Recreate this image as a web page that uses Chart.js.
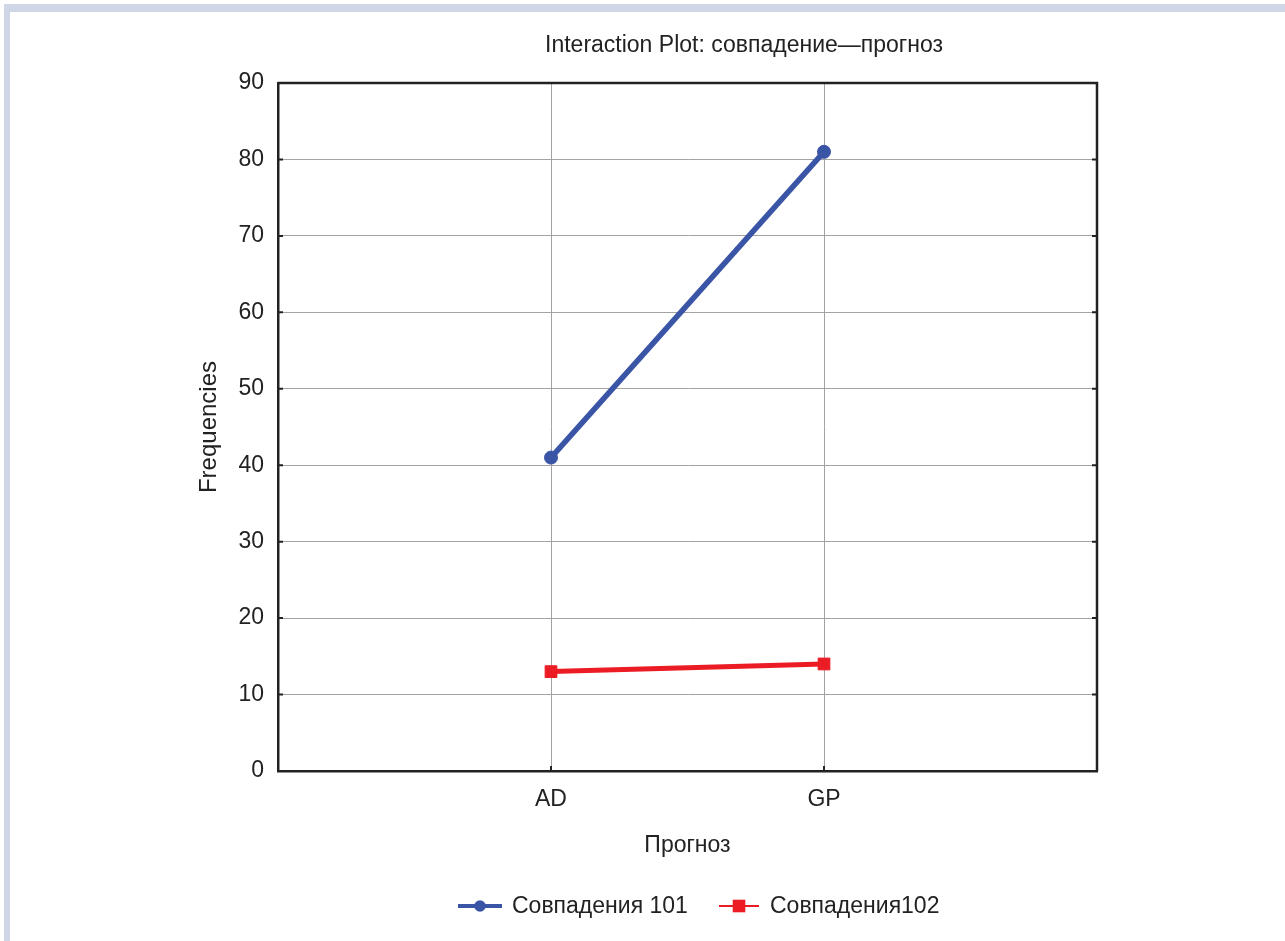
<!DOCTYPE html>
<html>
<head>
<meta charset="utf-8">
<script src="https://cdn.jsdelivr.net/npm/chart.js@4.4.1/dist/chart.umd.min.js"></script>
<style>
  html, body { margin: 0; background: #fff; }
  #frame { position: absolute; left: 4px; top: 4px; width: 1281px; height: 937px;
    box-sizing: border-box; border-left: 6px solid #cfd6e6; border-top: 8px solid #cfd6e6; }
  #c { position: absolute; left: 0; top: 0; }
</style>
</head>
<body>
<div id="frame"></div>
<canvas id="c" width="1285" height="941"></canvas>
<script>
"use strict";

const TITLE = "Interaction Plot: совпадение—прогноз";
const X_TITLE = "Прогноз";
const Y_TITLE = "Frequencies";
const CATEGORIES = ["AD", "GP"];
const SERIES_NAMES = ["Совпадения 101", "Совпадения102"];
const SOVP_101 = [41, 81];
const SOVP_102 = [13, 14];

const FONT = "'Liberation Sans', Arial, sans-serif";
const INK = "#222";

const pts = (vals) => vals.map((v, i) => ({ x: i + 1, y: v }));

/* frame on top/right plus short inward tick marks, like the original */
const framePlugin = {
  id: "frame",
  afterDraw(chart) {
    const { ctx, chartArea: a, scales } = chart;
    ctx.save();
    ctx.strokeStyle = INK;
    ctx.lineWidth = 2.5;
    ctx.beginPath();
    ctx.moveTo(a.left, a.top); ctx.lineTo(a.right, a.top);
    ctx.lineTo(a.right, a.bottom);
    ctx.stroke();
    ctx.lineWidth = 2;
    ctx.beginPath();
    scales.y.ticks.forEach((t) => {
      const y = scales.y.getPixelForValue(t.value);
      ctx.moveTo(a.left, y); ctx.lineTo(a.left + 5, y);
      ctx.moveTo(a.right - 5, y); ctx.lineTo(a.right, y);
    });
    scales.x.ticks.forEach((t) => {
      const x = scales.x.getPixelForValue(t.value);
      ctx.moveTo(x, a.bottom); ctx.lineTo(x, a.bottom - 5);
    });
    ctx.stroke();
    ctx.restore();
  },
};

/* title and legend sit off-centre in the original, so drawn by hand */
const textPlugin = {
  id: "texts",
  afterDraw(chart) {
    const ctx = chart.ctx;
    ctx.save();
    ctx.fillStyle = INK;
    ctx.font = "23px " + FONT;
    ctx.textAlign = "center";
    ctx.textBaseline = "middle";
    ctx.fillText(TITLE, 744, 46);

    const spots = [{ x0: 458, x1: 502, tx: 512, lw: 4 },
                   { x0: 719, x1: 759, tx: 770, lw: 2 }];
    ctx.font = "23px " + FONT;
    ctx.textAlign = "left";
    chart.data.datasets.forEach((ds, i) => {
      const s = spots[i], y = 906, mid = (s.x0 + s.x1) / 2;
      ctx.strokeStyle = ds.borderColor;
      ctx.lineWidth = s.lw;
      ctx.beginPath(); ctx.moveTo(s.x0, y); ctx.lineTo(s.x1, y); ctx.stroke();
      ctx.fillStyle = ds.borderColor;
      if (ds.pointStyle === "rect") ctx.fillRect(mid - 6.3, y - 6.3, 12.6, 12.6);
      else { ctx.beginPath(); ctx.arc(mid, y, 5.8, 0, Math.PI * 2); ctx.fill(); }
      ctx.fillStyle = INK;
      ctx.fillText(ds.label, s.tx, y + 1);
    });
    ctx.restore();
  },
};

new Chart(document.getElementById("c"), {
  type: "line",
  data: {
    datasets: [
      { label: SERIES_NAMES[0], data: pts(SOVP_101), borderColor: "#3a55a6",
        backgroundColor: "#3a55a6", borderWidth: 5.5, pointStyle: "circle",
        pointRadius: 6.5, pointBorderWidth: 1 },
      { label: SERIES_NAMES[1], data: pts(SOVP_102), borderColor: "#ec1c24",
        backgroundColor: "#ec1c24", borderWidth: 5, pointStyle: "rect",
        pointRadius: 8.3, pointBorderWidth: 1 },
    ],
  },
  options: {
    responsive: false,
    animation: false,
    layout: { padding: { left: 195, right: 188, top: 83, bottom: 82 } },
    plugins: { legend: { display: false }, tooltip: { enabled: false } },
    scales: {
      x: {
        type: "linear", min: 0, max: 3,
        afterBuildTicks: (s) => { s.ticks = CATEGORIES.map((_, i) => ({ value: i + 1 })); },
        afterFit: (s) => { s.height = 88; },
        ticks: { callback: (v) => CATEGORIES[v - 1], padding: 15,
                 font: { family: FONT, size: 23 }, color: INK, maxRotation: 0 },
        grid: { color: "#a3a3a3", lineWidth: 1, drawTicks: false },
        border: { color: INK, width: 2.5 },
        title: { display: true, text: X_TITLE, padding: 0,
                 font: { family: FONT, size: 23 }, color: INK },
      },
      y: {
        min: 0, max: 90,
        afterFit: (s) => { s.width = 83; },
        ticks: { stepSize: 10, padding: 14, font: { family: FONT, size: 23 }, color: INK },
        grid: { color: "#a3a3a3", lineWidth: 1, drawTicks: false },
        border: { color: INK, width: 2.5 },
        title: { display: true, text: Y_TITLE, padding: 0,
                 font: { family: FONT, size: 24 }, color: INK },
      },
    },
  },
  plugins: [framePlugin, textPlugin],
});
</script>
</body>
</html>
